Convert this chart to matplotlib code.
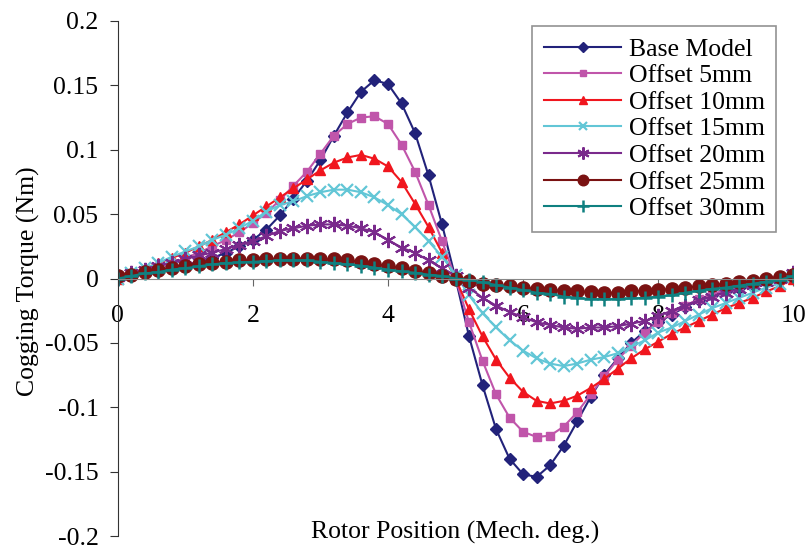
import matplotlib.pyplot as plt
import numpy as np

# rotor position, 0..10 deg in 0.2 steps
pos = np.round(np.arange(0, 10.01, 0.2), 1)

base = [0.0, 0.002, 0.004, 0.006, 0.008, 0.010, 0.013, 0.016, 0.020, 0.025,
        0.030, 0.038, 0.049, 0.062, 0.076, 0.092, 0.111, 0.129, 0.145, 0.154,
        0.151, 0.136, 0.113, 0.080, 0.042, 0.000,
        -0.045, -0.083, -0.117, -0.140, -0.152, -0.154, -0.145, -0.130, -0.111,
        -0.092, -0.075, -0.062, -0.050, -0.041, -0.034, -0.028, -0.022, -0.017,
        -0.013, -0.010, -0.007, -0.005, -0.002, 0.000, 0.002]
off5 = [0.0, 0.003, 0.006, 0.009, 0.012, 0.016, 0.020, 0.025, 0.030, 0.036,
        0.043, 0.051, 0.061, 0.072, 0.083, 0.097, 0.111, 0.120, 0.125, 0.126,
        0.120, 0.104, 0.083, 0.057, 0.029, 0.000,
        -0.034, -0.064, -0.090, -0.108, -0.119, -0.123, -0.122, -0.115, -0.104,
        -0.090, -0.076, -0.063, -0.052, -0.042, -0.034, -0.027, -0.021, -0.016,
        -0.012, -0.009, -0.006, -0.004, -0.002, 0.000, 0.002]
off10 = [0.0, 0.004, 0.008, 0.012, 0.016, 0.020, 0.025, 0.030, 0.036, 0.042,
         0.049, 0.056, 0.063, 0.070, 0.077, 0.084, 0.090, 0.094, 0.096, 0.093,
         0.087, 0.075, 0.058, 0.040, 0.020, 0.000,
         -0.024, -0.045, -0.063, -0.077, -0.088, -0.095, -0.097, -0.095, -0.091,
         -0.085, -0.078, -0.070, -0.062, -0.055, -0.049, -0.043, -0.038, -0.033,
         -0.028, -0.023, -0.019, -0.015, -0.010, -0.006, 0.000]
off15 = [0.0, 0.004, 0.008, 0.012, 0.017, 0.021, 0.025, 0.030, 0.034, 0.039,
         0.045, 0.052, 0.057, 0.060, 0.064, 0.067, 0.069, 0.069, 0.067, 0.063,
         0.057, 0.050, 0.040, 0.029, 0.017, 0.003,
         -0.013, -0.027, -0.038, -0.048, -0.056, -0.062, -0.066, -0.068, -0.066,
         -0.063, -0.061, -0.058, -0.053, -0.048, -0.042, -0.038, -0.033, -0.028,
         -0.023, -0.019, -0.015, -0.011, -0.007, -0.004, 0.001]
off20 = [0.001, 0.004, 0.007, 0.010, 0.012, 0.015, 0.018, 0.020, 0.023, 0.026,
         0.029, 0.033, 0.037, 0.039, 0.041, 0.042, 0.042, 0.041, 0.039, 0.036,
         0.030, 0.024, 0.020, 0.014, 0.008, 0.002,
         -0.007, -0.015, -0.021, -0.026, -0.030, -0.034, -0.036, -0.038, -0.039,
         -0.038, -0.038, -0.037, -0.035, -0.033, -0.029, -0.025, -0.021, -0.017,
         -0.014, -0.011, -0.008, -0.005, -0.003, 0.000, 0.004]
off25 = [0.002, 0.003, 0.005, 0.007, 0.008, 0.010, 0.011, 0.012, 0.013, 0.014,
         0.0145, 0.015, 0.0155, 0.0155, 0.0155, 0.015, 0.0148, 0.014, 0.013, 0.011,
         0.0098, 0.008, 0.006, 0.004, 0.002, 0.000,
         -0.002, -0.004, -0.005, -0.006, -0.007, -0.008, -0.009, -0.0095, -0.010,
         -0.0105, -0.011, -0.011, -0.010, -0.0095, -0.009, -0.008, -0.007, -0.006,
         -0.005, -0.004, -0.003, -0.002, -0.0005, 0.001, 0.003]
off30 = [0.0, 0.002, 0.004, 0.005, 0.007, 0.008, 0.0095, 0.011, 0.012, 0.0125,
         0.013, 0.0135, 0.014, 0.014, 0.014, 0.013, 0.012, 0.011, 0.010, 0.0085,
         0.007, 0.0055, 0.0045, 0.003, 0.002, 0.000,
         -0.001, -0.003, -0.005, -0.007, -0.009, -0.011, -0.012, -0.014, -0.015,
         -0.016, -0.016, -0.016, -0.0155, -0.015, -0.014, -0.013, -0.011, -0.0095,
         -0.008, -0.007, -0.0055, -0.004, -0.0025, -0.001, 0.002]

labels = ['Base Model', 'Offset 5mm', 'Offset 10mm', 'Offset 15mm',
          'Offset 20mm', 'Offset 25mm', 'Offset 30mm']

plt.rcParams['font.family'] = ['Liberation Serif', 'DejaVu Serif']
FS = 18.5

fig = plt.figure(figsize=(8.07, 5.51), dpi=100)
ax = fig.add_axes([0.146, 0.027, 0.837, 0.935])

styles = [
    dict(color='#22227a', marker='D', ms=6),
    dict(color='#c055aa', marker='s', ms=6),
    dict(color='#f0161e', marker='^', ms=7.5),
    dict(color='#62c6d6', marker='x', ms=8, mew=1.6),
    dict(color='#7a2a8c', marker=(6, 2, 0), ms=11, mew=1.5),
    dict(color='#7a1212', marker='o', ms=9.5),
    dict(color='#0f8080', marker='+', ms=10, mew=1.8),
]
series = [base, off5, off10, off15, off20, off25, off30]
for ys, lab, st in zip(series, labels, styles):
    ax.plot(pos, ys, lw=1.5, label=lab, **st)

ax.set_xlim(0, 10)
ax.set_ylim(-0.2, 0.2)
ax.set_xticks([0, 2, 4, 6, 8, 10])
ax.set_yticks(np.arange(-0.2, 0.201, 0.05))
ax.set_yticklabels(['-0.2', '-0.15', '-0.1', '-0.05', '0', '0.05', '0.1', '0.15', '0.2'])

ax.spines['top'].set_visible(False)
ax.spines['right'].set_visible(False)
ax.spines['bottom'].set_position(('data', 0))
ax.spines['bottom'].set_color('#888888')
ax.spines['left'].set_color('#333333')
ax.tick_params(axis='y', direction='out', length=6, labelsize=FS, pad=8, color='#333333')
ax.tick_params(axis='x', direction='out', length=5, labelsize=FS, pad=14, color='#666666')

ax.text(0.5, 0.008, 'Rotor Position (Mech. deg.)', transform=ax.transAxes,
        ha='center', va='center', fontsize=FS)
fig.text(28 / 807, 1 - 281 / 551, 'Cogging Torque (Nm)', rotation=90,
         ha='center', va='center', fontsize=FS)

leg = ax.legend(loc='upper right', bbox_to_anchor=(0.975, 0.99), fontsize=FS,
                frameon=True, fancybox=False, handlelength=3.0, handletextpad=0.3,
                labelspacing=0.14, borderpad=0.45, borderaxespad=0, markerscale=0.8)
leg.get_frame().set_edgecolor('#777777')
leg.get_frame().set_linewidth(1.2)

fig.savefig('out.png', dpi=100)
